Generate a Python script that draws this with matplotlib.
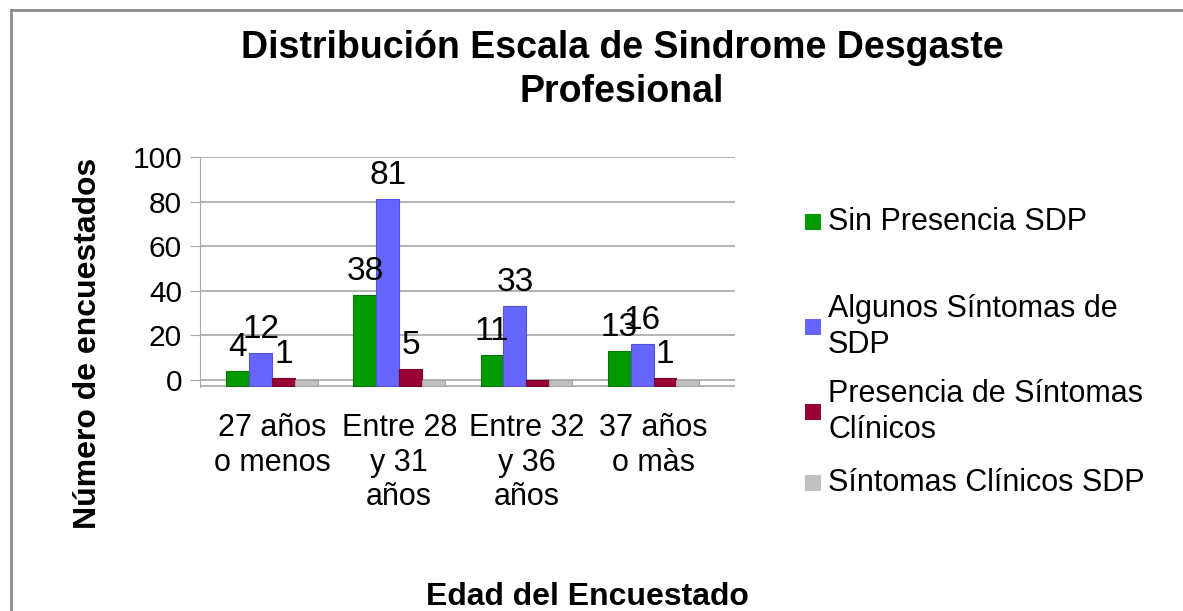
import matplotlib
matplotlib.use("Agg")
import matplotlib.pyplot as plt
from matplotlib.lines import Line2D
from matplotlib.patches import Rectangle
import numpy as np

plt.rcParams['font.family'] = ['Liberation Sans', 'DejaVu Sans']

categorias = ["27 años\no menos", "Entre 28\ny 31\naños", "Entre 32\ny 36\naños", "37 años\no màs"]
series = ["Sin Presencia SDP", "Algunos Síntomas de\nSDP", "Presencia de Síntomas\nClínicos", "Síntomas Clínicos SDP"]
sin_presencia = [4, 38, 11, 13]
algunos_sintomas = [12, 81, 33, 16]
presencia_clinicos = [1, 5, 0, 1]
clinicos_sdp = [0, 0, 0, 0]
valores = [sin_presencia, algunos_sintomas, presencia_clinicos, clinicos_sdp]
colores = ["#009900", "#6666ff", "#990033", "#c0c0c0"]
bordes = ["#007a00", "#5252d9", "#7a0029", "#a6a6a6"]

W, H = 1183, 611
fig = plt.figure(figsize=(W / 100, H / 100), dpi=100)
# marco del gráfico (solo borde izquierdo y superior)
fig.add_artist(Line2D([11 / W, 11 / W], [0, 1 - 10 / H], transform=fig.transFigure,
                      color="#8c8c8c", linewidth=2))
fig.add_artist(Line2D([11 / W, 1], [1 - 10 / H, 1 - 10 / H], transform=fig.transFigure,
                      color="#8c8c8c", linewidth=2))

piso = -2.5
ymin, ymax = -3, 100
px_por_unidad = 223 / 100
y0 = 380 + (0 - ymin) * px_por_unidad
alto = (ymax - ymin) * px_por_unidad
ax = fig.add_axes([200 / W, (H - y0) / H, 535 / W, alto / H])

ancho = 0.18
x = np.arange(len(categorias))
for i, (vals, c, b) in enumerate(zip(valores, colores, bordes)):
    pos = x + (i - 1.5) * ancho
    vals = np.array(vals, dtype=float)
    ax.bar(pos, vals - piso, bottom=piso, width=ancho, color=c, edgecolor=b,
           linewidth=0.8, zorder=3)
    if i < 3:
        for p, v in zip(pos, vals):
            if v > 0:
                ax.annotate(f"{int(v)}", (p, v), xytext=(0, 17), textcoords="offset points",
                            ha="center", va="center", fontsize=24, zorder=5)

ax.set_ylim(ymin, ymax)
ax.set_xlim(-0.566, 3.64)
ax.set_yticks(range(0, 101, 20))
ax.tick_params(axis="y", labelsize=21.5, length=7, color="#a6a6a6", pad=6)
ax.set_xticks(x)
ax.set_xticklabels(categorias, fontsize=22, va="top", linespacing=1.2)
ax.tick_params(axis="x", length=0, pad=19)
ax.grid(axis="y", color="#a6a6a6", linewidth=1.2, zorder=0)
for s in ["top", "right", "bottom"]:
    ax.spines[s].set_visible(False)
ax.spines["left"].set_color("#a6a6a6")
ax.axhline(piso, color="#a6a6a6", linewidth=1.2, zorder=1)

fig.text(622 / W, 1 - 70 / H, "Distribución Escala de Sindrome Desgaste\nProfesional",
         ha="center", va="center", fontsize=27, fontweight="bold", linespacing=1.25)
fig.text(88 / W, 1 - 343 / H, "Número de encuestados", rotation=90, ha="center", va="center",
         fontsize=23, fontweight="bold")
fig.text(587 / W, 1 - 597 / H, "Edad del Encuestado", ha="center", va="center",
         fontsize=23, fontweight="bold")

# leyenda con el espaciado del gráfico original
leyenda_y = [222, 327, 412, 483]
for nombre, c, y in zip(series, colores, leyenda_y):
    fig.patches.append(Rectangle((805 / W, 1 - (y + 8) / H), 16 / W, 16 / H,
                                 transform=fig.transFigure, facecolor=c, edgecolor="none"))
    fig.text(828 / W, 1 - y / H, nombre, ha="left", va="center", fontsize=22,
             linespacing=1.25)

fig.savefig("out.png", dpi=100)
